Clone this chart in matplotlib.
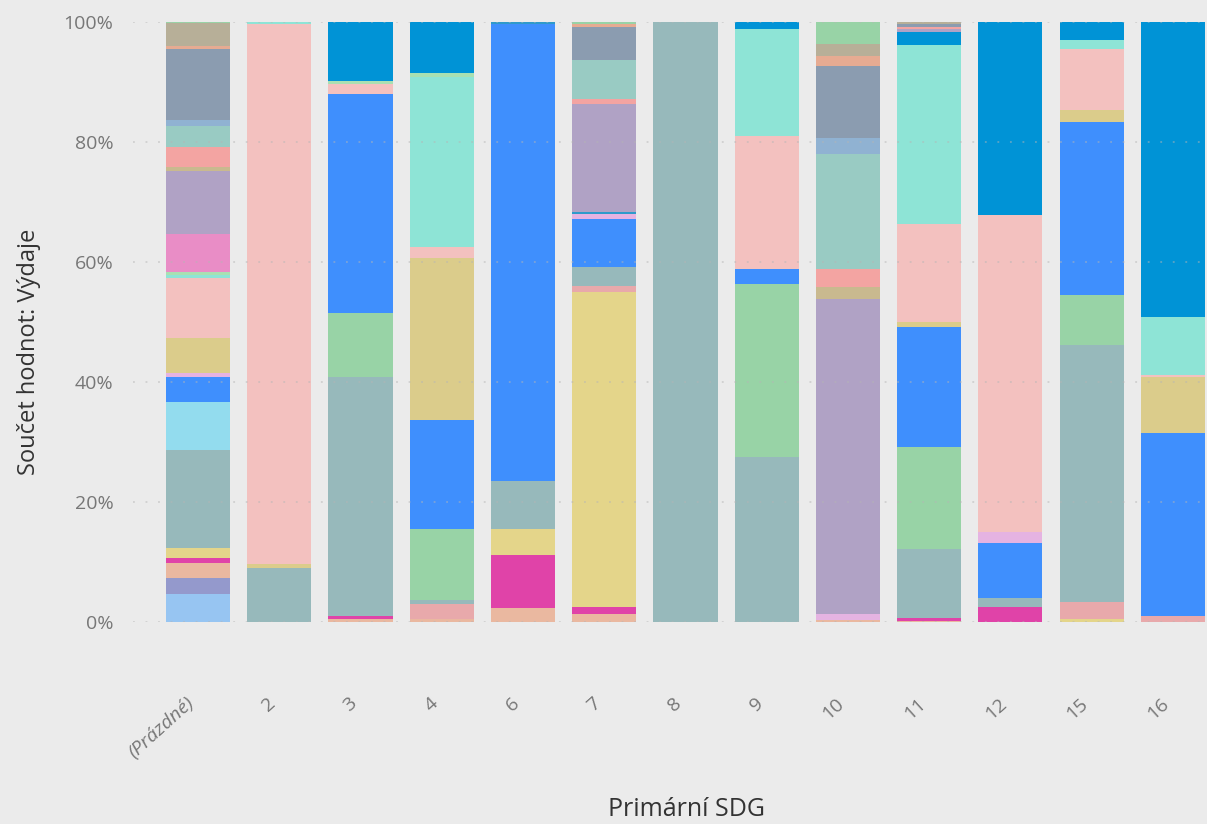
import numpy as np
import matplotlib
matplotlib.use("Agg")
import matplotlib.pyplot as plt
from matplotlib.ticker import PercentFormatter

# SDG categories on the x axis
categories = ["(Prázdné)", "2", "3", "4", "6", "7", "8", "9", "10", "11", "12", "15", "16"]

# Expense shares per series (stacked bottom -> top), one value per SDG
lightblue  = [4.6, 0, 0, 0, 0, 0, 0, 0, 0, 0, 0, 0, 0]
lavblue    = [2.7, 0, 0, 0, 0, 0, 0, 0, 0, 0, 0, 0, 0]
salmon     = [2.6, 0, 0.5, 0.5, 2.3, 1.4, 0, 0, 0.33, 0.2, 0, 0, 0]
magenta    = [0.7, 0, 0.5, 0, 8.9, 1.15, 0, 0, 0, 0.5, 2.5, 0, 0]
yellow     = [1.7, 0, 0, 0, 4.3, 52.5, 0, 0, 0, 0, 0, 0.5, 0]
rose       = [0, 0, 0, 2.5, 0, 0.95, 0, 0, 0, 0, 0, 2.8, 1.0]
tealgray   = [16.4, 9.0, 39.8, 0.7, 8.0, 3.2, 100, 27.5, 0, 11.4, 1.5, 42.9, 0]
green      = [0, 0, 10.7, 11.8, 0, 0, 0, 28.8, 0, 17.0, 0, 8.3, 0]
lightcyan  = [7.9, 0, 0, 0, 0, 0, 0, 0, 0, 0, 0, 0, 0]
blue       = [4.3, 0, 36.5, 18.2, 76.2, 7.9, 0, 2.5, 0, 20.1, 9.2, 28.8, 30.5]
lilac      = [0.6, 0, 0, 0, 0, 0.9, 0, 0, 0.97, 0, 1.8, 0, 0]
tealblue   = [0, 0, 0, 0, 0.3, 0.4, 0, 0, 0, 0, 0, 0, 0]
khaki      = [5.8, 0.7, 0, 27.0, 0, 0, 0, 0, 0, 0.85, 0, 2.0, 9.3]
pink       = [10.0, 89.9, 1.7, 1.8, 0, 0, 0, 22.2, 0, 16.3, 52.8, 10.2, 0.4]
mint       = [0.55, 0.4, 0, 28.3, 0, 0, 0, 17.8, 0, 29.75, 0, 1.5, 9.6]
lightgreen = [0.55, 0, 0.5, 0.7, 0, 0, 0, 0, 0, 0, 0, 0, 0]
darkblue   = [0, 0, 9.8, 8.5, 0, 0, 0, 1.2, 0, 2.3, 32.2, 3.0, 49.2]
pinkmag    = [6.3, 0, 0, 0, 0, 0, 0, 0, 0, 0, 0, 0, 0]
purple     = [10.55, 0, 0, 0, 0, 17.9, 0, 0, 52.5, 0.4, 0, 0, 0]
khakitan   = [0.55, 0, 0, 0, 0, 0, 0, 0, 2.1, 0, 0, 0, 0]
salmonred  = [3.3, 0, 0, 0, 0, 0.8, 0, 0, 2.9, 0.3, 0, 0, 0]
tealgreen  = [3.6, 0, 0, 0, 0, 6.6, 0, 0, 19.2, 0, 0, 0, 0]
lightslate = [0.95, 0, 0, 0, 0, 0, 0, 0, 2.6, 0, 0, 0, 0]
slate      = [11.8, 0, 0, 0, 0, 5.55, 0, 0, 12.05, 0.6, 0, 0, 0]
salmon2    = [0.55, 0, 0, 0, 0, 0.45, 0, 0, 1.75, 0, 0, 0, 0]
tan        = [3.8, 0, 0, 0, 0, 0, 0, 0, 2.0, 0.3, 0, 0, 0]
green2     = [0.2, 0, 0, 0, 0, 0.3, 0, 0, 3.6, 0, 0, 0, 0]

series = [
    (lightblue, "#97c5f2"), (lavblue, "#9499cc"), (salmon, "#eab8a0"),
    (magenta, "#e043a8"), (yellow, "#e4d58a"), (rose, "#e8a9ab"),
    (tealgray, "#97b9bb"), (green, "#98d3a6"), (lightcyan, "#93dcee"),
    (blue, "#3f8ffd"), (lilac, "#e5b3e2"), (tealblue, "#2f9acb"),
    (khaki, "#dbcc8b"), (pink, "#f3c1bf"), (mint, "#8ee4d6"),
    (lightgreen, "#a9e0b2"), (darkblue, "#0093d6"), (pinkmag, "#e98dc6"),
    (purple, "#b0a2c5"), (khakitan, "#c9b98f"), (salmonred, "#f3a4a2"),
    (tealgreen, "#99cbc3"), (lightslate, "#90b2d2"), (slate, "#8b9cb0"),
    (salmon2, "#e6ab92"), (tan, "#b7af98"), (green2, "#98d3a6"),
]

bg = "#ebebeb"
fig = plt.figure(figsize=(12.07, 8.24), dpi=100, facecolor=bg)
ax = fig.add_axes([133 / 1207, 1 - 622 / 824, 1 - 133 / 1207, 600 / 824])
ax.set_facecolor(bg)

x = np.arange(len(categories))
totals = np.sum([np.array(v, dtype=float) for v, _ in series], axis=0)
bottom = np.zeros(len(categories))
for values, color in series:
    share = np.array(values, dtype=float) / totals
    ax.bar(x, share, width=0.79, bottom=bottom, color=color, linewidth=0, zorder=2)
    bottom += share

# dotted gridlines
for yv in np.arange(0, 1.01, 0.2):
    ax.axhline(yv, color="#b5b5b5", linestyle=(0, (1.2, 7)), linewidth=1.1,
               alpha=0.6, zorder=3)

ax.set_xlim(-0.8, 12.42)
ax.set_ylim(0, 1)
ax.set_yticks(np.arange(0, 1.01, 0.2))
ax.yaxis.set_major_formatter(PercentFormatter(1.0, decimals=0))
ax.set_xticks(x)
ax.set_xticklabels(categories)
for lbl in ax.get_xticklabels():
    lbl.set_rotation(42)
    lbl.set_ha("right")
    lbl.set_va("top")
    lbl.set_fontsize(14)
ax.get_xticklabels()[0].set_style("italic")

ax.tick_params(axis="both", length=0, colors="#777777")
ax.tick_params(axis="y", labelsize=14, pad=14)
ax.tick_params(axis="x", pad=52)
for lbl in ax.get_xticklabels() + ax.get_yticklabels():
    lbl.set_fontfamily("Open Sans")
for s in ax.spines.values():
    s.set_visible(False)

fig.text(29 / 1207, 1 - 352 / 824, "Součet hodnot: Výdaje", rotation=90,
         ha="center", va="center", fontsize=17, color="#333333",
         family="Open Sans")
fig.text(686 / 1207, 1 - 810 / 824, "Primární SDG", ha="center", va="center",
         fontsize=18, color="#333333", family="Open Sans")

fig.savefig("out.png", dpi=100, facecolor=bg)
